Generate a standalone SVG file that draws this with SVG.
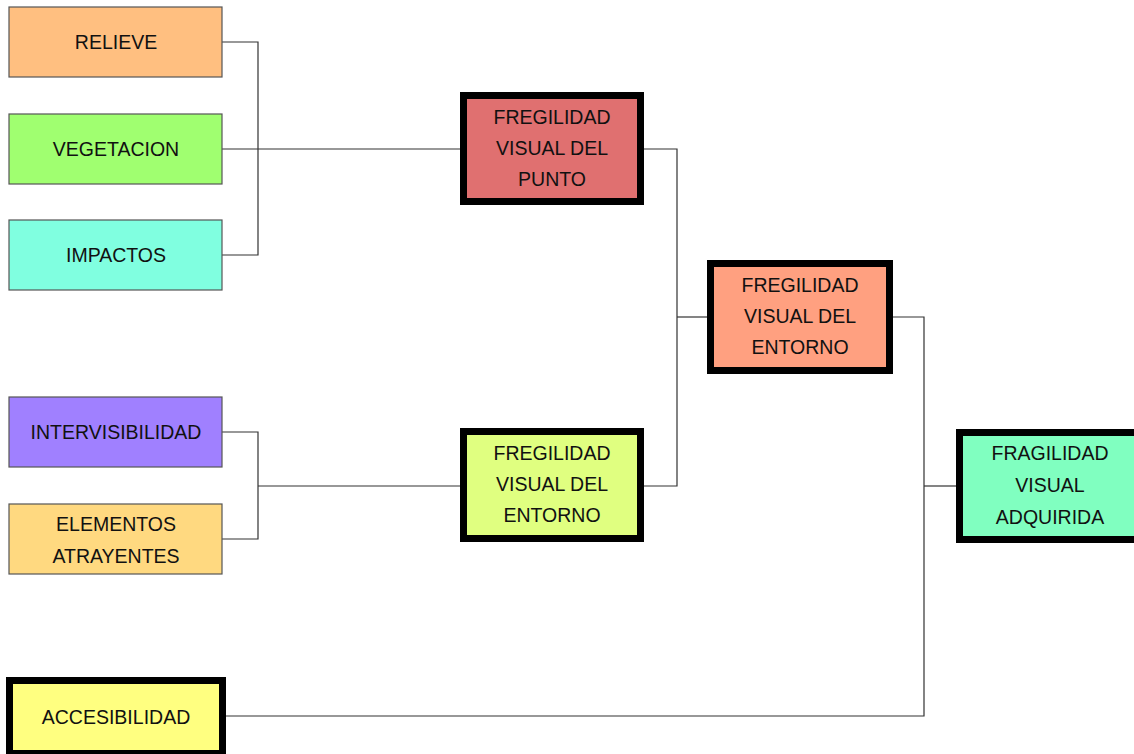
<svg xmlns="http://www.w3.org/2000/svg" width="1134" height="754" viewBox="0 0 1134 754">
<style>
.thin{stroke:#555;stroke-width:1.2}
.thick{stroke:#000;stroke-width:7}
text{font-family:"Liberation Sans",Arial,sans-serif;font-size:19.5px;fill:#111;text-anchor:middle}
.c{fill:none;stroke:#333;stroke-width:1.2}
</style>
<rect width="1134" height="754" fill="#fff"/>
<g id="connectors">
<polyline class="c" points="222,42 258,42 258,255 222,255"/>
<line class="c" x1="222" y1="149" x2="460" y2="149"/>
<polyline class="c" points="222,432 258,432 258,539 222,539"/>
<line class="c" x1="258" y1="486" x2="460" y2="486"/>
<polyline class="c" points="644,149 677,149 677,486 644,486"/>
<line class="c" x1="677" y1="317" x2="707" y2="317"/>
<polyline class="c" points="893,317 924,317 924,716 226,716"/>
<line class="c" x1="924" y1="486" x2="956" y2="486"/>
</g>
<g id="relieve"><rect class="thin" x="9" y="7" width="213" height="70" fill="#FFBF80"/><text x="116" y="49">RELIEVE</text></g>
<g id="vegetacion"><rect class="thin" x="9" y="114" width="213" height="70" fill="#A0FF70"/><text x="116" y="156">VEGETACION</text></g>
<g id="impactos"><rect class="thin" x="9" y="220" width="213" height="70" fill="#80FFE0"/><text x="116" y="262">IMPACTOS</text></g>
<g id="intervisibilidad"><rect class="thin" x="9" y="397" width="213" height="70" fill="#A080FF"/><text x="116" y="439">INTERVISIBILIDAD</text></g>
<g id="elementos"><rect class="thin" x="9" y="504" width="213" height="70" fill="#FFD980"/><text x="116" y="531">ELEMENTOS</text><text x="116" y="563">ATRAYENTES</text></g>
<g id="fv-punto"><rect class="thick" x="463.5" y="95.5" width="177" height="106" fill="#E07070"/><text x="552" y="124">FREGILIDAD</text><text x="552" y="155">VISUAL DEL</text><text x="552" y="186">PUNTO</text></g>
<g id="fv-entorno-centro"><rect class="thick" x="710.5" y="263.5" width="179" height="107" fill="#FFA080"/><text x="800" y="292">FREGILIDAD</text><text x="800" y="323">VISUAL DEL</text><text x="800" y="354">ENTORNO</text></g>
<g id="fv-entorno-bajo"><rect class="thick" x="463.5" y="431.5" width="177" height="107" fill="#E0FF80"/><text x="552" y="460">FREGILIDAD</text><text x="552" y="491">VISUAL DEL</text><text x="552" y="522">ENTORNO</text></g>
<g id="fragilidad-adquirida"><rect class="thick" x="959.5" y="432.5" width="182" height="107" fill="#80FFC0"/><text x="1050" y="460">FRAGILIDAD</text><text x="1050" y="492">VISUAL</text><text x="1050" y="524">ADQUIRIDA</text></g>
<g id="accesibilidad"><rect class="thick" x="9.5" y="680.5" width="213" height="73" fill="#FFFF80"/><text x="116" y="724">ACCESIBILIDAD</text></g>
</svg>
